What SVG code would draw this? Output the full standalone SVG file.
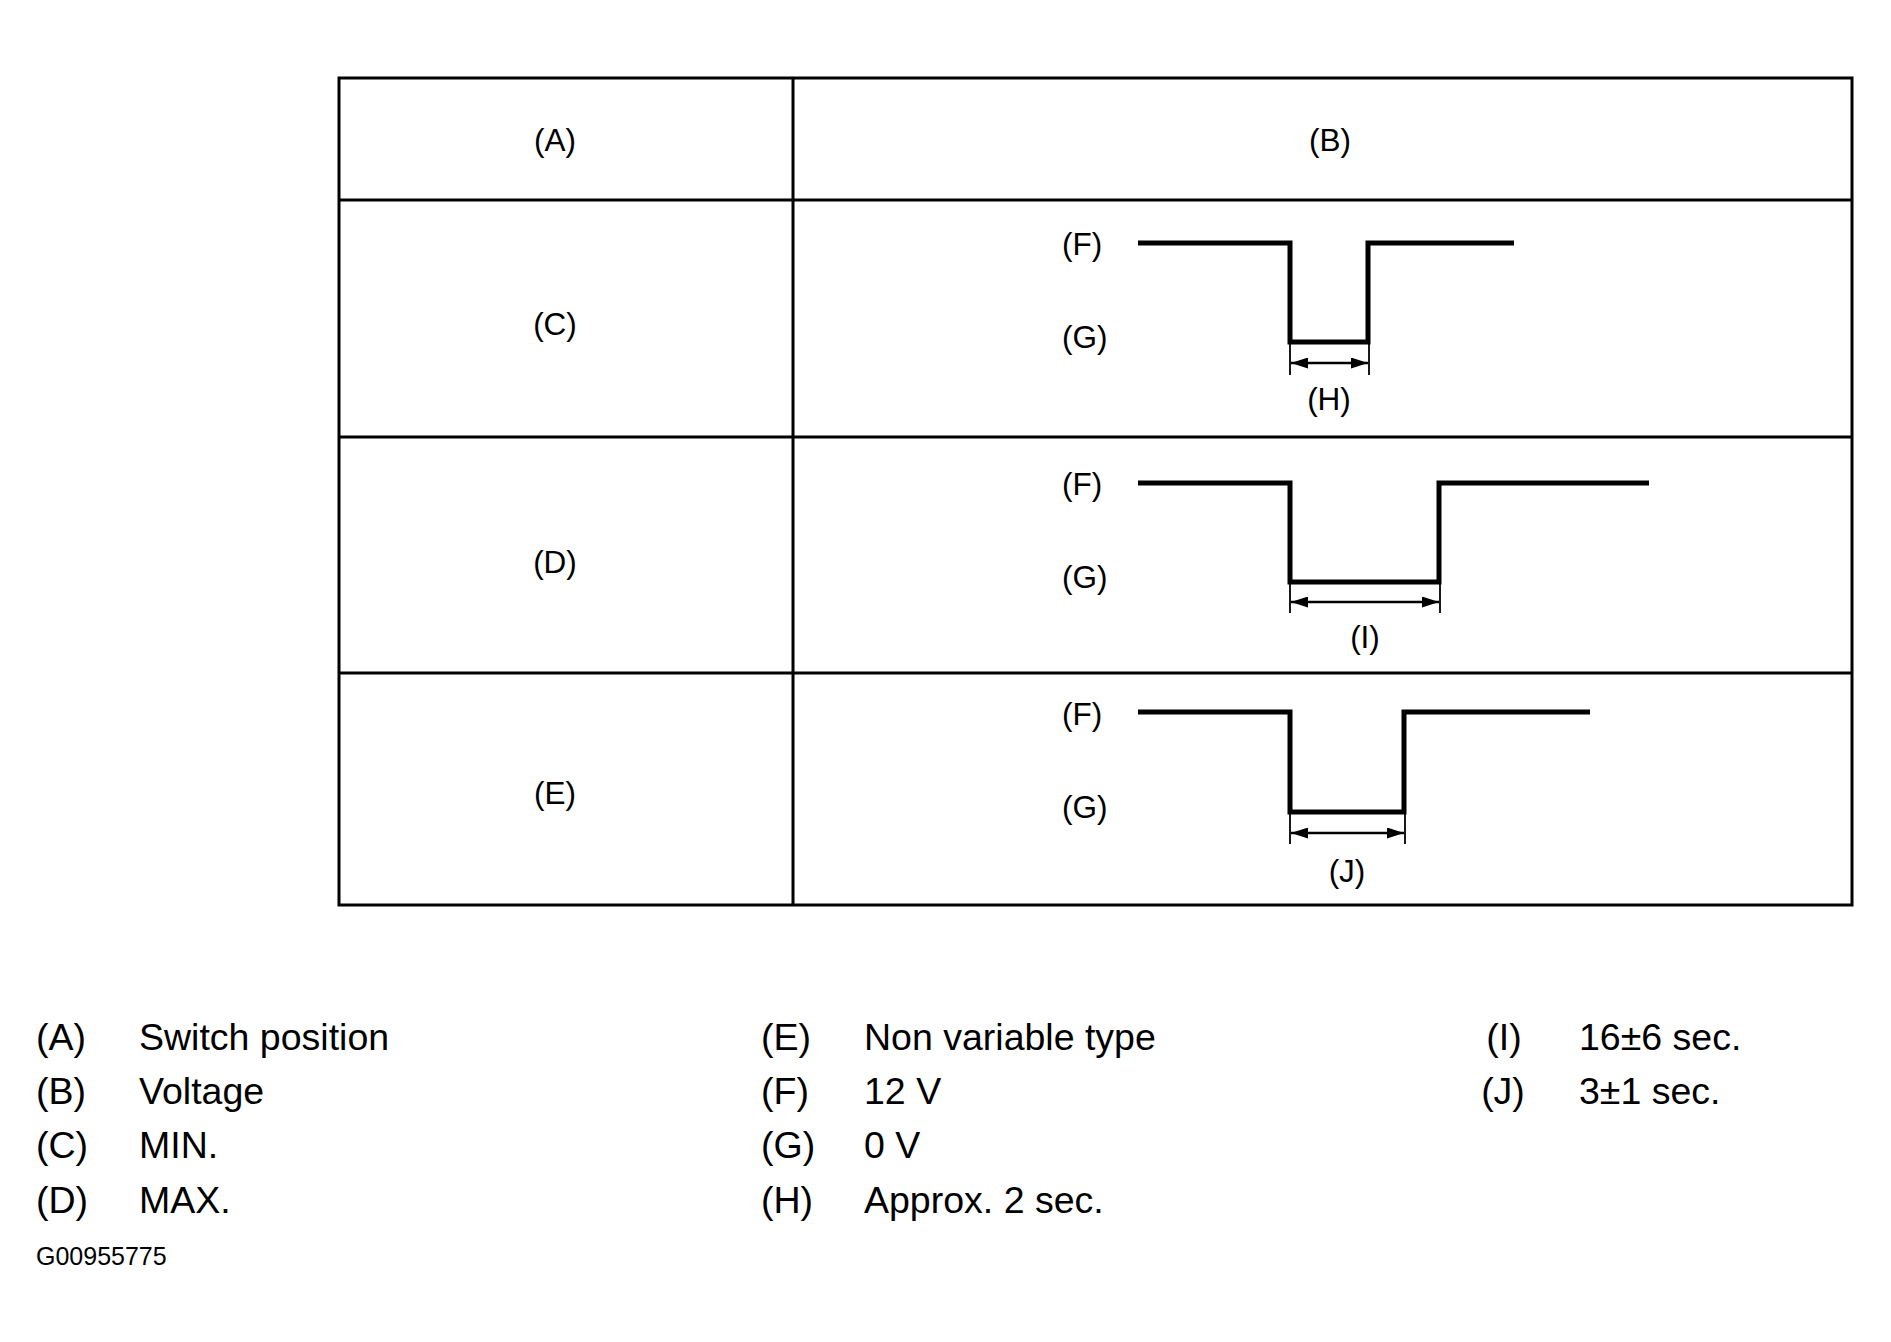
<svg xmlns="http://www.w3.org/2000/svg" width="1891" height="1342" viewBox="0 0 1891 1342">
<defs>
<style>
text{font-family:"Liberation Sans",Arial,sans-serif;fill:#000}
.t{font-size:31.5px}
.c{text-anchor:middle}
.lg{font-size:37.5px}
.grid{stroke:#000;stroke-width:3;fill:none}
.wave{stroke:#000;stroke-width:5;fill:none;stroke-linejoin:miter}
.tick{stroke:#000;stroke-width:1.8}
.dim{stroke:#000;stroke-width:2.4}
</style>
<marker id="ah" viewBox="0 0 17 11" refX="17" refY="5.5" markerWidth="17" markerHeight="11" markerUnits="userSpaceOnUse" orient="auto-start-reverse">
<path d="M0,0 L17,5.5 L0,11 Z" fill="#000"/>
</marker>
</defs>
<rect width="1891" height="1342" fill="#fff"/>

<g id="table">
<rect class="grid" x="339" y="78" width="1513" height="827"/>
<line class="grid" x1="793" y1="78" x2="793" y2="905"/>
<line class="grid" x1="339" y1="200" x2="1852" y2="200"/>
<line class="grid" x1="339" y1="437" x2="1852" y2="437"/>
<line class="grid" x1="339" y1="673" x2="1852" y2="673"/>
</g>

<g id="header-A"><text class="t c" x="555" y="151">(A)</text></g>
<g id="header-B"><text class="t c" x="1330" y="151">(B)</text></g>
<g id="row-C"><text class="t c" x="555" y="335">(C)</text></g>
<g id="row-D"><text class="t c" x="555" y="573">(D)</text></g>
<g id="row-E"><text class="t c" x="555" y="804">(E)</text></g>

<g id="wave-C">
<path class="wave" d="M1138,243 H1290 V342 H1368 V243 H1514"/>
<text class="t" x="1062" y="255">(F)</text>
<text class="t" x="1062" y="348">(G)</text>
<line class="tick" x1="1290" y1="342" x2="1290" y2="375"/>
<line class="tick" x1="1369" y1="342" x2="1369" y2="375"/>
<text class="t c" x="1329" y="410">(H)</text>
</g>

<g id="wave-D">
<path class="wave" d="M1138,483 H1290 V582 H1439 V483 H1649"/>
<text class="t" x="1062" y="495">(F)</text>
<text class="t" x="1062" y="588">(G)</text>
<line class="tick" x1="1290" y1="582" x2="1290" y2="613"/>
<line class="tick" x1="1440" y1="582" x2="1440" y2="613"/>
<text class="t c" x="1365" y="648">(I)</text>
</g>

<g id="wave-E">
<path class="wave" d="M1138,712 H1290 V812 H1404 V712 H1590"/>
<text class="t" x="1062" y="725">(F)</text>
<text class="t" x="1062" y="818">(G)</text>
<line class="tick" x1="1290" y1="812" x2="1290" y2="844"/>
<line class="tick" x1="1405" y1="812" x2="1405" y2="844"/>
<text class="t c" x="1347" y="882">(J)</text>
</g>

<g id="connectors">
<line class="dim" x1="1291" y1="363" x2="1368" y2="363" marker-start="url(#ah)" marker-end="url(#ah)"/>
<line class="dim" x1="1291" y1="602" x2="1439" y2="602" marker-start="url(#ah)" marker-end="url(#ah)"/>
<line class="dim" x1="1291" y1="833" x2="1404" y2="833" marker-start="url(#ah)" marker-end="url(#ah)"/>
</g>

<g id="legend">
<text class="lg" x="36" y="1050">(A)</text><text class="lg" x="139" y="1050">Switch position</text>
<text class="lg" x="36" y="1104">(B)</text><text class="lg" x="139" y="1104">Voltage</text>
<text class="lg" x="36" y="1158">(C)</text><text class="lg" x="139" y="1158">MIN.</text>
<text class="lg" x="36" y="1213">(D)</text><text class="lg" x="139" y="1213">MAX.</text>
<text class="lg" x="761" y="1050">(E)</text><text class="lg" x="864" y="1050">Non variable type</text>
<text class="lg" x="761" y="1104">(F)</text><text class="lg" x="864" y="1104">12 V</text>
<text class="lg" x="761" y="1158">(G)</text><text class="lg" x="864" y="1158">0 V</text>
<text class="lg" x="761" y="1213">(H)</text><text class="lg" x="864" y="1213">Approx. 2 sec.</text>
<text class="lg c" x="1504" y="1050">(I)</text><text class="lg" x="1579" y="1050">16±6 sec.</text>
<text class="lg c" x="1503" y="1104">(J)</text><text class="lg" x="1579" y="1104">3±1 sec.</text>
</g>
<g id="figure-id"><text x="36" y="1265" style="font-size:25px">G00955775</text></g>
</svg>
